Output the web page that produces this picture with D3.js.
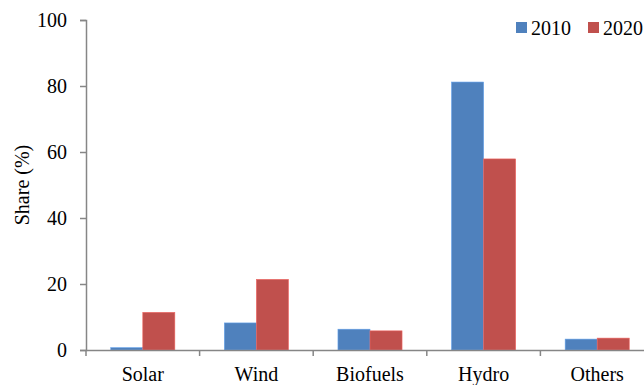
<!DOCTYPE html>
<html>
<head>
<meta charset="utf-8">
<script src="https://cdn.jsdelivr.net/npm/d3@7"></script>
<style>
  body { margin: 0; background: #fff; }
  svg { display: block; }
  svg text { font-family: 'Liberation Serif', 'Times New Roman', Times, serif; fill: #000; }
</style>
</head>
<body>
<div id="chart"></div>
<script>
// Daten
const categories = ["Solar", "Wind", "Biofuels", "Hydro", "Others"];
const years = ["2010", "2020"];
const share2010 = [0.7, 8.2, 6.3, 81.2, 3.3];
const share2020 = [11.4, 21.4, 5.8, 57.9, 3.6];
const yTicks = [0, 20, 40, 60, 80, 100];

const W = 644, H = 385;
const M = { top: 20, right: -10, bottom: 35, left: 86 };
const FONT = "'Liberation Serif', 'Times New Roman', Times, serif";

const colors = { "2010": "#4F81BD", "2020": "#C0504D" };
const axisColor = "#868686";

const svg = d3.select("#chart").append("svg")
  .attr("width", W)
  .attr("height", H);

// Skalen
const x0 = d3.scaleBand().domain(categories).range([M.left, W - M.right]).padding(0);
const x1 = d3.scaleBand().domain(years).range([0, x0.bandwidth()])
  .paddingInner(0).paddingOuter(0.773);
const y = d3.scaleLinear().domain([0, 100]).range([H - M.bottom, M.top]);

const rows = categories.map((c, i) => ({ cat: c, values: [
  { year: "2010", v: share2010[i] },
  { year: "2020", v: share2020[i] }
]}));

// Balken
svg.append("g")
  .selectAll("g.cat")
  .data(rows)
  .join("g")
  .attr("class", "cat")
  .attr("transform", d => `translate(${x0(d.cat)},0)`)
  .selectAll("rect")
  .data(d => d.values)
  .join("rect")
  .attr("x", d => x1(d.year))
  .attr("width", x1.bandwidth())
  .attr("y", d => y(d.v))
  .attr("height", d => y(0) - y(d.v))
  .attr("fill", d => colors[d.year])
  .attr("stroke", d => d3.color(colors[d.year]).brighter(0.6))
  .attr("stroke-width", 0.6);

// y-Achse
const yAxis = svg.append("g")
  .attr("transform", `translate(${M.left},0)`)
  .call(d3.axisLeft(y).tickValues(yTicks).tickSize(6).tickPadding(13))
  .attr("font-size", 20);
yAxis.attr("font-family", null);
yAxis.selectAll(".tick text").style("font-family", FONT);
yAxis.select(".domain").attr("stroke", axisColor).attr("stroke-width", 1.5);
yAxis.selectAll(".tick line").attr("stroke", axisColor).attr("stroke-width", 1.5);

// x-Achse
const xAxis = svg.append("g")
  .attr("transform", `translate(0,${y(0)})`)
  .call(d3.axisBottom(x0).tickSize(0).tickPadding(17).tickSizeOuter(0))
  .attr("font-size", 20);
xAxis.attr("font-family", null);
xAxis.selectAll(".tick text").style("font-family", FONT);
xAxis.select(".domain").attr("stroke", axisColor).attr("stroke-width", 1.5);

// Trennstriche zwischen Kategorien
const sepX = categories.map(c => x0(c)).concat([x0(categories[categories.length - 1]) + x0.bandwidth()]);
svg.append("g").selectAll("line")
  .data(sepX)
  .join("line")
  .attr("x1", d => d).attr("x2", d => d)
  .attr("y1", y(0)).attr("y2", y(0) + 6)
  .attr("stroke", axisColor)
  .attr("stroke-width", 1.5);

// Achsentitel
svg.append("text")
  .attr("transform", `translate(29,${(y(0) + y(100)) / 2}) rotate(-90)`)
  .attr("text-anchor", "middle")
  .attr("font-size", 20)
  .style("font-family", FONT)
  .text("Share (%)");

// Legende
const legend = svg.append("g").attr("transform", "translate(516,22)");
const items = legend.selectAll("g")
  .data(years)
  .join("g")
  .attr("transform", (d, i) => `translate(${i * 72},0)`);
items.append("rect")
  .attr("width", 11).attr("height", 11)
  .attr("fill", d => colors[d]);
items.append("text")
  .attr("x", 15).attr("y", 13)
  .attr("font-size", 20)
  .style("font-family", FONT)
  .text(d => d);
</script>
</body>
</html>
